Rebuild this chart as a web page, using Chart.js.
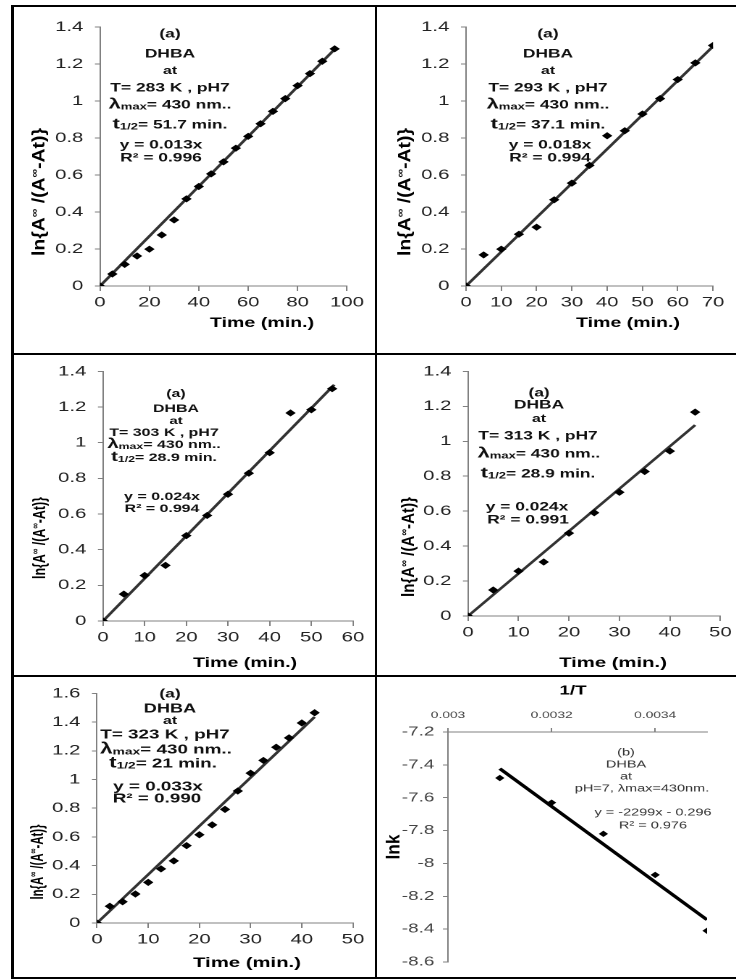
<!DOCTYPE html>
<html>
<head>
<meta charset="utf-8">
<title>DHBA kinetics</title>
<script src="https://cdn.jsdelivr.net/npm/chart.js@4.4.1/dist/chart.umd.min.js"></script>
<style>
  html, body { margin:0; padding:0; background:#fff; }
  body { width:736px; height:979px; position:relative; overflow:hidden; }
  .panel { position:absolute; transform-origin:0 0; }
  .panel canvas { display:block; }
  .rule { position:absolute; background:#000; z-index:5; }
</style>
</head>
<body>
<div class="rule" style="left:11px;top:5px;width:3px;height:974px"></div>
<div class="rule" style="left:11px;top:5px;width:725px;height:2px"></div>
<div class="rule" style="left:375px;top:5px;width:2px;height:974px"></div>
<div class="rule" style="left:11px;top:353px;width:725px;height:2px"></div>
<div class="rule" style="left:11px;top:675px;width:725px;height:2px"></div>
<div class="rule" style="left:11px;top:977px;width:725px;height:2px"></div>
<script>
// ================= DATA =================
// (a) T = 283 K
const time283 = [0,5,10,15,20,25,30,35,40,45,50,55,60,65,70,75,80,85,90,95];
const lnA283  = [0,0.065,0.117,0.162,0.199,0.276,0.357,0.471,0.538,0.606,0.671,0.745,0.809,0.877,0.944,1.013,1.083,1.148,1.215,1.282];
const fitX283 = [0,95];
const fitY283 = [0,1.28];
// (a) T = 293 K
const time293 = [0,5,10,15,20,25,30,35,40,45,50,55,60,65,70];
const lnA293  = [0,0.168,0.199,0.280,0.318,0.466,0.556,0.652,0.812,0.839,0.930,1.013,1.116,1.206,1.300];
const fitX293 = [0,70];
const fitY293 = [0,1.295];
// (a) T = 303 K
const time303 = [0,5,10,15,20,25,30,35,40,45,50,55];
const lnA303  = [0,0.151,0.255,0.312,0.479,0.592,0.711,0.829,0.944,1.167,1.185,1.303];
const fitX303 = [0,55.5];
const fitY303 = [0,1.325];
// (a) T = 313 K
const time313 = [0,5,10,15,20,25,30,35,40,45];
const lnA313  = [0,0.149,0.257,0.309,0.474,0.591,0.708,0.827,0.944,1.167];
const fitX313 = [0,45];
const fitY313 = [0,1.093];
// (a) T = 323 K
const time323 = [0,2.5,5,7.5,10,12.5,15,17.5,20,22.5,25,27.5,30,32.5,35,37.5,40,42.5];
const lnA323  = [0,0.117,0.148,0.202,0.283,0.377,0.433,0.539,0.615,0.684,0.792,0.920,1.044,1.133,1.225,1.290,1.394,1.465];
const fitX323 = [0,42.5];
const fitY323 = [0,1.436];
// (b) Arrhenius
const invT   = [0.0031,0.0032,0.0033,0.0034,0.0035];
const lnk    = [-7.48,-7.63,-7.82,-8.07,-8.41];
const fitXk  = [0.0031,0.0035];
const fitYk  = [-7.423,-8.343];

// axis ranges [min, max, step]
const yRangeA   = [0,1.4,0.2];
const yRange323 = [0,1.6,0.2];
const xRange283 = [0,100,20];
const xRange293 = [0,70,10];
const xRange303 = [0,60,10];
const xRange313 = [0,50,10];
const xRange323 = [0,50,10];
const xRangeK   = [0.003,0.0035,0.0002];
const yRangeK   = [-8.6,-7.2,0.2];

// ================= TEXT =================
const notes283 = ['(a)','DHBA','at','T= 283 K , pH7','λ_{max}= 430 nm..','t_{1/2}= 51.7 min.','y = 0.013x','R² = 0.996'];
const notes293 = ['(a)','DHBA','at','T= 293 K , pH7','λ_{max}= 430 nm..','t_{1/2}= 37.1 min.','y = 0.018x','R² = 0.994'];
const notes303 = ['(a)','DHBA','at','T= 303 K , pH7','λ_{max}= 430 nm..','t_{1/2}= 28.9 min.','y = 0.024x','R² = 0.994'];
const notes313 = ['(a)','DHBA','at','T= 313 K , pH7','λ_{max}= 430 nm..','t_{1/2}= 28.9 min.','y = 0.024x','R² = 0.991'];
const notes323 = ['(a)','DHBA','at','T= 323 K , pH7','λ_{max}= 430 nm..','t_{1/2}= 21 min.','y = 0.033x','R² = 0.990'];
const notesK   = ['(b)','DHBA','at','pH=7, λmax=430nm.','y = -2299x - 0.296','R² = 0.976'];
const yTitleA = 'ln{A^{∞} /(A^{∞}-At)}';
const xTitleA = 'Time (min.)';
const xTitleK = '1/T';
const yTitleK = 'lnk';

// ================= RENDERING =================
const S = 1.45;
const FONT = '"Liberation Sans", Arial, Helvetica, sans-serif';

function parseLine(str, main, big, sub) {
  const segs = [];
  const re = /(.)_\{([^}]*)\}|\^\{([^}]*)\}/g;
  let last = 0, m;
  while ((m = re.exec(str))) {
    if (m[3] !== undefined) {
      if (m.index > last) segs.push({t: str.slice(last, m.index), size: main, dy: 0});
      segs.push({t: m[3], size: sub || main * 0.62, dy: -main * 0.38});
    } else {
      if (m.index > last) segs.push({t: str.slice(last, m.index), size: main, dy: 0});
      segs.push({t: m[1], size: big || main, dy: 0});
      segs.push({t: m[2], size: sub || main * 0.7, dy: 1});
    }
    last = re.lastIndex;
  }
  if (last < str.length) segs.push({t: str.slice(last), size: main, dy: 0});
  return segs;
}

function drawItem(ctx, it) {
  ctx.save();
  ctx.fillStyle = it.color || '#000';
  ctx.textBaseline = 'alphabetic';
  ctx.textAlign = 'left';
  const w8 = it.bold ? 'bold ' : '';
  let w = 0;
  it.segs.forEach(s => { ctx.font = w8 + s.size + 'px ' + FONT; s.w = ctx.measureText(s.t).width; w += s.w; });
  ctx.translate(it.x, it.y);
  if (it.rotate) {
    ctx.rotate(-Math.PI / 2);
    if (it.len) ctx.scale(it.len / w, 1);
  }
  let x = -w / 2;
  const base = it.main * 0.36;
  it.segs.forEach(s => { ctx.font = w8 + s.size + 'px ' + FONT; ctx.fillText(s.t, x, base + s.dy); x += s.w; });
  ctx.restore();
}

const textPlugin = {
  id: 'panelText',
  afterDraw(chart, args, opts) {
    (opts.items || []).forEach(it => drawItem(chart.ctx, it));
  }
};

function makePanel(p) {
  const [bx, by, bw, bh] = p.box;
  const [L, T, R, B] = p.area;
  const lw = Math.round(bw / S);
  const sx = bw / lw;
  const X = v => (v - bx) / sx, Y = v => v - by;
  const wrap = document.createElement('div');
  wrap.className = 'panel';
  Object.assign(wrap.style, {left: bx + 'px', top: by + 'px', width: lw + 'px', height: bh + 'px', transform: 'scaleX(' + sx + ')'});
  const cv = document.createElement('canvas');
  cv.width = lw; cv.height = bh;
  wrap.appendChild(cv);
  document.body.appendChild(wrap);

  const xTop = p.xPos === 'top';
  const fmt = v => String(+Number(v).toFixed(5));
  const items = [];
  p.notes.forEach((str, i) => items.push({
    x: X(p.notePos[i][0]), y: Y(p.notePos[i][1]), main: p.noteSize[i],
    segs: parseLine(str, p.noteSize[i], p.noteBig, p.noteSub), bold: p.noteBold, color: p.noteColor
  }));
  items.push({x: X(p.xTitle.pos[0]), y: Y(p.xTitle.pos[1]), main: p.xTitle.size,
    segs: parseLine(p.xTitle.text, p.xTitle.size), bold: true, color: '#000'});
  items.push({x: X(p.yTitle.pos[0]), y: Y(p.yTitle.pos[1]), main: p.yTitle.size,
    segs: parseLine(p.yTitle.text, p.yTitle.size, null, p.yTitle.size * 0.62), bold: true, color: '#000',
    rotate: true, len: p.yTitle.len});

  const axisCommon = (r, fontSize, color, tl, pad) => ({
    type: 'linear', min: r[0], max: r[1],
    ticks: {stepSize: r[2], includeBounds: false, autoSkip: false, maxRotation: 0, minRotation: 0,
            padding: pad, color: color, font: {family: FONT, size: fontSize}, callback: fmt},
    grid: {display: true, drawOnChartArea: false, drawTicks: true, tickLength: tl, color: '#808080', lineWidth: 1},
    border: {display: true, color: '#808080', width: 1}
  });
  const xs = axisCommon(p.xRange, p.xFont, p.tickColor, p.xTick, p.xPad);
  xs.position = p.xPos;
  xs.afterFit = s => { s.height = xTop ? Y(T) : bh - Y(B); };
  const ys = axisCommon(p.yRange, p.yFont, p.tickColor, p.yTick, p.yPad);
  ys.position = 'left';
  ys.afterFit = s => { s.width = X(L); };

  new Chart(cv, {
    type: 'scatter',
    data: {datasets: [
      {data: p.xs.map((x, i) => ({x: x, y: p.ys[i]})), pointStyle: 'rectRot', pointRadius: p.ptR,
       pointHoverRadius: p.ptR, backgroundColor: '#000', borderColor: '#000', borderWidth: 0},
      {data: p.fx.map((x, i) => ({x: x, y: p.fy[i]})), showLine: true, pointRadius: 0, pointHoverRadius: 0,
       borderColor: p.lineColor, borderWidth: p.lineW, fill: false}
    ]},
    options: {
      responsive: false, maintainAspectRatio: false, animation: false, devicePixelRatio: 2, events: [],
      layout: {padding: {left: 0, right: lw - X(R), top: xTop ? 0 : Y(T), bottom: xTop ? bh - Y(B) : 0}},
      plugins: {legend: {display: false}, tooltip: {enabled: false}, panelText: {items: items}},
      scales: {x: xs, y: ys}
    },
    plugins: [textPlugin]
  });
}

const baseA = {
  xPos: 'bottom', xFont: 14, yFont: 14, tickColor: '#222', xTick: 5, xPad: 3, yTick: 3.5, yPad: 8,
  ptR: 3.6, lineColor: '#333', lineW: 2.2, noteBold: true, noteColor: '#111', noteBig: 15, noteSub: 9
};

makePanel(Object.assign({}, baseA, {
  box: [14, 7, 361, 346], area: [100, 27, 347, 286],
  xs: time283, ys: lnA283, fx: fitX283, fy: fitY283, xRange: xRange283, yRange: yRangeA,
  notes: notes283, noteSize: [12, 12, 11, 12, 12, 12, 12, 12],
  notePos: [[170,33],[170,53],[170,70],[170,87],[170,104],[170,124],[161,144],[161,157]],
  xTitle: {text: xTitleA, size: 13.5, pos: [262, 322]},
  yTitle: {text: yTitleA, size: 12, pos: [38, 192], len: 128}
}));
makePanel(Object.assign({}, baseA, {
  box: [377, 7, 359, 346], area: [466, 27, 713, 286],
  xs: time293, ys: lnA293, fx: fitX293, fy: fitY293, xRange: xRange293, yRange: yRangeA,
  notes: notes293, noteSize: [12, 12, 11, 12, 12, 12, 12, 12],
  notePos: [[548,33],[548,53],[548,70],[548,87],[548,104],[548,124],[550,144],[550,157]],
  xTitle: {text: xTitleA, size: 13.5, pos: [628, 322]},
  yTitle: {text: yTitleA, size: 12, pos: [404, 192], len: 128}
}));
makePanel(Object.assign({}, baseA, {
  box: [14, 355, 361, 320], area: [103, 365, 353, 621],
  xs: time303, ys: lnA303, fx: fitX303, fy: fitY303, xRange: xRange303, yRange: yRangeA,
  notes: notes303, noteSize: [11, 11, 10.5, 11, 11, 11, 11, 11], noteBig: 14, noteSub: 8.5,
  notePos: [[176,393],[176,408],[176,420],[164,432],[164,444],[164,457],[162,496],[162,508]],
  xTitle: {text: xTitleA, size: 13.5, pos: [245, 662]},
  yTitle: {text: yTitleA, size: 12, pos: [39, 538], len: 82}
}));
makePanel(Object.assign({}, baseA, {
  box: [377, 355, 359, 320], area: [468, 365, 721, 616],
  xs: time313, ys: lnA313, fx: fitX313, fy: fitY313, xRange: xRange313, yRange: yRangeA,
  notes: notes313, noteSize: [12, 12, 11, 12, 12, 12, 12, 12],
  notePos: [[539,392],[539,404],[539,418],[538,435],[539,453],[538,473],[527,506],[528,519]],
  xTitle: {text: xTitleA, size: 14, pos: [613, 662]},
  yTitle: {text: yTitleA, size: 12, pos: [408, 547], len: 100}
}));
makePanel(Object.assign({}, baseA, {
  box: [14, 677, 361, 300], area: [97, 685, 353, 923],
  xs: time323, ys: lnA323, fx: fitX323, fy: fitY323, xRange: xRange323, yRange: yRange323,
  notes: notes323, noteSize: [12, 12.5, 11, 13, 13, 13, 13, 13], noteBig: 15.5, noteSub: 9.5,
  notePos: [[170,693],[170,708],[170,720],[165,734],[166,749],[163,763],[158,786],[157,798]],
  xTitle: {text: xTitleA, size: 14, pos: [247, 962]},
  yTitle: {text: yTitleA, size: 12, pos: [37, 862], len: 75}
}));
makePanel({
  box: [377, 677, 359, 300], area: [448, 732, 707, 962],
  xPos: 'top', xFont: 9.5, yFont: 13, tickColor: '#444', xTick: 4, xPad: 7, yTick: 3.5, yPad: 6,
  ptR: 3.2, lineColor: '#000', lineW: 2.8, noteBold: false, noteColor: '#333',
  xs: invT, ys: lnk, fx: fitXk, fy: fitYk, xRange: xRangeK, yRange: yRangeK,
  notes: notesK, noteSize: [10, 10, 10, 10, 10, 10],
  notePos: [[626,752],[626,764],[626,776],[642,788],[653,812],[653,825]],
  xTitle: {text: xTitleK, size: 13, pos: [573, 690]},
  yTitle: {text: yTitleK, size: 12.5, pos: [393, 847], len: 25}
});
</script>
</body>
</html>
